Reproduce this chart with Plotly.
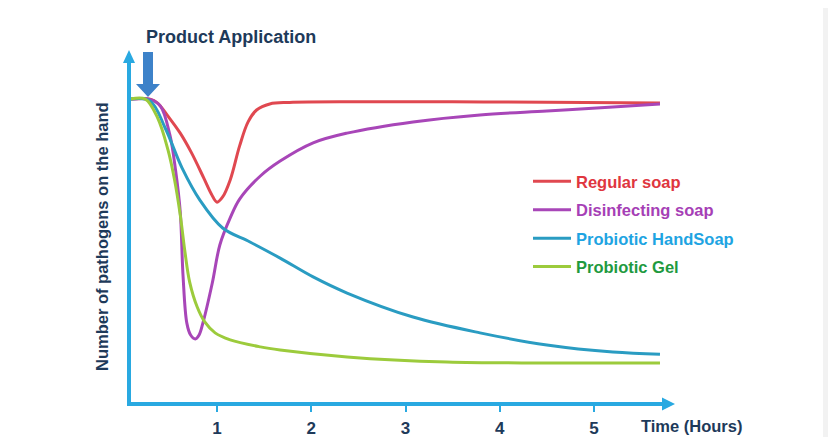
import plotly.graph_objects as go

# ---------------- data ----------------
series_names = ["Regular soap", "Disinfecting soap", "Probiotic HandSoap", "Probiotic Gel"]

t_regular = [0.077, 0.29, 0.37, 0.48, 0.61, 0.73, 0.86, 0.94, 1.0, 1.06, 1.14, 1.24, 1.33, 1.42, 1.56, 1.77, 2.5, 3.5, 4.5, 5.70]
v_regular = [100.3, 100.3, 99.0, 94.7, 89.1, 82.6, 74.3, 69.1, 66.4, 68.1, 73.7, 84.9, 92.8, 96.7, 98.7, 99.2, 99.4, 99.4, 99.3, 99.0]

t_disinf = [0.077, 0.29, 0.40, 0.50, 0.56, 0.61, 0.64, 0.68, 0.72, 0.77, 0.81, 0.85, 0.95, 1.03, 1.14, 1.24, 1.46, 1.67, 2.02, 2.38, 3.08, 3.79, 4.50, 5.20, 5.70]
v_disinf = [100.3, 100.2, 98.0, 88.5, 77.0, 63.2, 42.0, 26.6, 22.7, 21.4, 22.7, 26.6, 39.8, 52.3, 61.2, 67.4, 75.0, 79.9, 85.9, 89.1, 92.8, 95.1, 96.4, 97.7, 98.7]

t_handsoap = [0.077, 0.29, 0.45, 0.63, 0.82, 1.06, 1.35, 1.67, 2.02, 2.38, 3.08, 3.79, 4.50, 5.20, 5.70]
v_handsoap = [100.3, 99.7, 90.8, 77.6, 67.0, 57.9, 53.3, 48.0, 41.8, 36.5, 28.6, 23.4, 19.4, 17.1, 16.4]

t_gel = [0.077, 0.24, 0.37, 0.48, 0.55, 0.61, 0.66, 0.71, 0.79, 0.87, 0.98, 1.14, 1.46, 1.67, 2.38, 3.44, 4.50, 5.70]
v_gel = [100.3, 100.3, 94.1, 83.6, 73.7, 62.2, 50.0, 40.1, 31.9, 27.0, 23.4, 21.1, 18.8, 17.8, 15.5, 13.8, 13.5, 13.5]

tick_vals = [1, 2, 3, 4, 5]
tick_text = ["1", "2", "3", "4", "5"]

line_colors = ["#e04850", "#a846b8", "#2a9cc2", "#9ccb3c"]
text_colors = ["#e0363f", "#a63fb6", "#1ea4e2", "#1f9a3f"]

# ---------------- geometry (screen pixels; page body has an 8px margin) ----------------
OFF = 8
W, H = 836 - 2 * OFF, 445 - 2 * OFF
P_L, P_R, P_T, P_B = 131, 662, 63, 402          # plot area on screen
ML, MR, MT, MB = P_L - OFF, W - (P_R - OFF), P_T - OFF, H - (P_B - OFF)
PW, PH = P_R - P_L, P_B - P_T

def t_of(px):            # hours scale (1 -> 217px, 5 -> 594px)
    return (px - 122.75) / 94.25

def v_of(py):            # value scale: 0 at axis (404px), 100 at the start plateau
    return (404 - py) / 3.04

def pxx(px):
    return (px - P_L) / PW

def pyy(py):
    return (P_B - py) / PH

AXIS = "#29a9e1"
NAVY = "#1e3a5a"
FONT = "Liberation Sans"

fig = go.Figure()
xs = [t_regular, t_disinf, t_handsoap, t_gel]
ys = [v_regular, v_disinf, v_handsoap, v_gel]
for i, name in enumerate(series_names):
    fig.add_trace(go.Scatter(
        x=xs[i], y=ys[i], mode="lines",
        line=dict(color=line_colors[i], width=3, shape="spline", smoothing=1.0),
        name=f"<span style='color:{text_colors[i]}'><b>{name}</b></span>",
        legendgroup=f"g{i}",
    ))

shapes = [
    # light grey strip at the right edge
    dict(type="rect", xref="paper", yref="paper", x0=pxx(823), x1=pxx(850), y0=pyy(460), y1=pyy(-20),
         fillcolor="#f2f2f2", line_width=0, layer="below"),
    # arrowhead of x axis
    dict(type="path", xref="paper", yref="paper", xsizemode="pixel", ysizemode="pixel",
         xanchor=pxx(662), yanchor=pyy(404), path="M 0,-6.5 L 13,0 L 0,6.5 Z",
         fillcolor=AXIS, line_width=0),
    # arrowhead of y axis
    dict(type="path", xref="paper", yref="paper", xsizemode="pixel", ysizemode="pixel",
         xanchor=pxx(129), yanchor=pyy(63), path="M -6,0 L 0,13 L 6,0 Z",
         fillcolor=AXIS, line_width=0),
    # product application arrow
    dict(type="path", xref="paper", yref="paper", xsizemode="pixel", ysizemode="pixel",
         xanchor=pxx(148), yanchor=pyy(97),
         path="M 0,0 L -12,13 L -5,13 L -5,45 L 5,45 L 5,13 L 12,13 Z",
         fillcolor="#3d82c9", line_width=0),
]

annotations = [
    dict(text="<b>Product Application</b>", xref="paper", yref="paper", x=pxx(231), y=pyy(37),
         showarrow=False, font=dict(family=FONT, size=18, color=NAVY), xanchor="center", yanchor="middle"),
    dict(text="<b>Number of pathogens on the hand</b>", xref="paper", yref="paper", x=pxx(102), y=pyy(237),
         showarrow=False, textangle=-90, font=dict(family=FONT, size=16.5, color=NAVY),
         xanchor="center", yanchor="middle"),
    dict(text="<b>Time (Hours)</b>", xref="paper", yref="paper", x=pxx(691), y=pyy(426),
         showarrow=False, font=dict(family=FONT, size=16.5, color=NAVY), xanchor="center", yanchor="middle"),
]

fig.update_layout(
    width=W, height=H,
    margin=dict(l=ML, r=MR, t=MT, b=MB, autoexpand=False),
    paper_bgcolor="white", plot_bgcolor="white",
    font=dict(family=FONT),
    shapes=shapes, annotations=annotations,
    showlegend=True,
    legend=dict(x=pxx(528), y=pyy(164), xanchor="left", yanchor="top",
                font=dict(family=FONT, size=16.5), bgcolor="rgba(0,0,0,0)",
                tracegroupgap=4, itemwidth=38),
    xaxis=dict(range=[t_of(P_L), t_of(P_R)], automargin=False,
               showgrid=False, zeroline=False, showline=True, linewidth=4, linecolor=AXIS,
               ticks="outside", ticklen=6, tickwidth=1.5, tickcolor=AXIS,
               tickvals=tick_vals, ticktext=tick_text, ticklabelstandoff=2,
               tickfont=dict(family=FONT, size=17, color=NAVY, weight="bold")),
    yaxis=dict(range=[v_of(P_B), v_of(P_T)], automargin=False, showgrid=False, zeroline=False,
               showline=True, linewidth=4, linecolor=AXIS, showticklabels=False, ticks=""),
)

fig.write_html("out.html")
